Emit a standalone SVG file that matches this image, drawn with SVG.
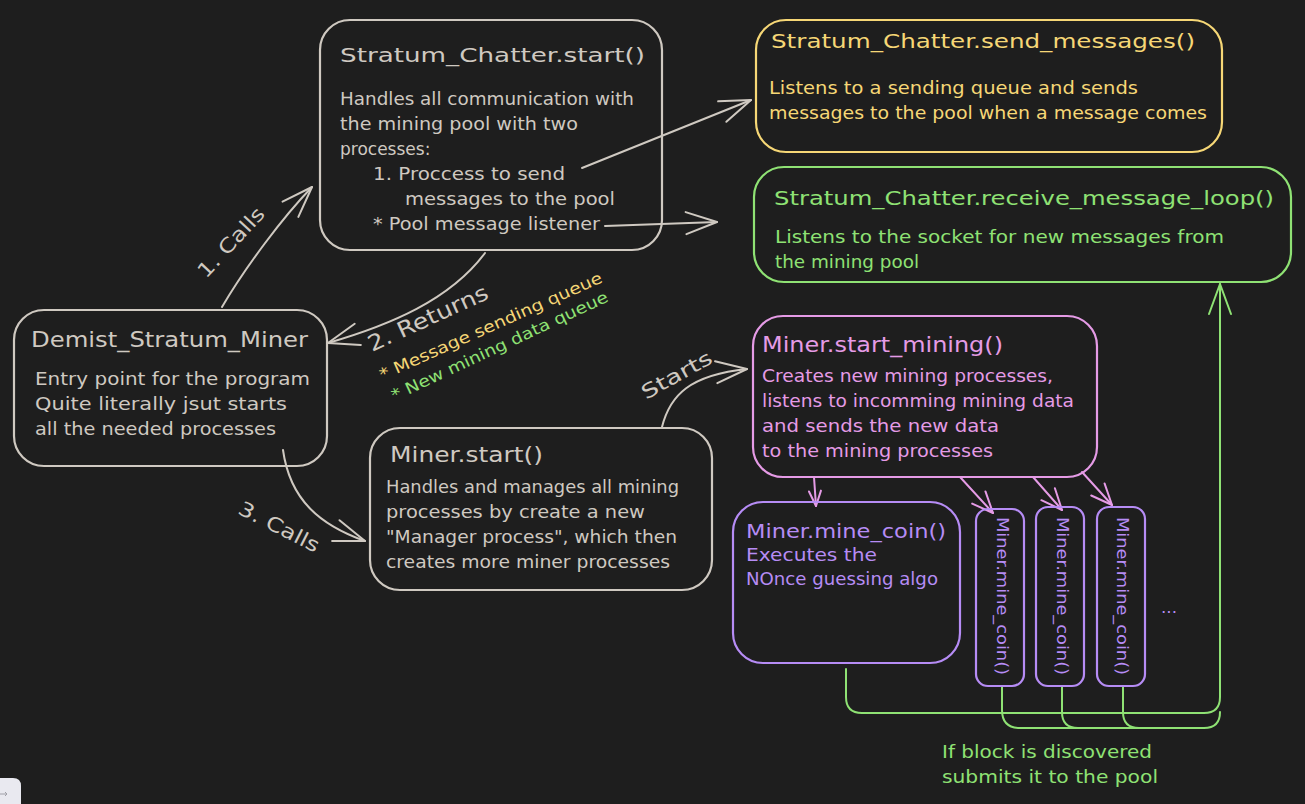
<svg xmlns="http://www.w3.org/2000/svg" width="1305" height="804" viewBox="0 0 1305 804">
<style>
text{font-family:"DejaVu Sans","Liberation Sans",sans-serif;}
.box{fill:none;stroke-width:2.2;}
.g{stroke:#cfc9c1;} .gt{fill:#cfc9c1;}
.y{stroke:#f6d776;} .yt{fill:#f6d776;}
.gr{stroke:#8fe274;} .grt{fill:#8fe274;}
.p{stroke:#e59be6;} .pt{fill:#e59be6;}
.v{stroke:#b68cf5;} .vt{fill:#b68cf5;}
.t{font-size:20px;}
.t2{font-size:22px;}
.b{font-size:17px;}
.l{font-size:16px;}
.c{fill:none;stroke-width:2;stroke-linecap:round;stroke-linejoin:round;}
</style>
<defs>
<marker id="ahg" viewBox="-33 -13 35 26" refX="0" refY="0" markerWidth="35" markerHeight="26" markerUnits="userSpaceOnUse" orient="auto" overflow="visible">
<path d="M-31,-11 L0,0 L-31,11" fill="none" stroke="#cfc9c1" stroke-width="2" stroke-linecap="round" stroke-linejoin="round"/>
</marker>
<marker id="ahp" viewBox="-24 -10 26 20" refX="0" refY="0" markerWidth="26" markerHeight="20" markerUnits="userSpaceOnUse" orient="auto" overflow="visible">
<path d="M-21,-9 L0,0 L-21,9" fill="none" stroke="#e59be6" stroke-width="2" stroke-linecap="round" stroke-linejoin="round"/>
</marker>
<marker id="ahps" viewBox="-17 -8 19 16" refX="0" refY="0" markerWidth="19" markerHeight="16" markerUnits="userSpaceOnUse" orient="auto" overflow="visible">
<path d="M-15,-6 L0,0 L-15,6" fill="none" stroke="#e59be6" stroke-width="2" stroke-linecap="round" stroke-linejoin="round"/>
</marker>
<marker id="ahgr" viewBox="-33 -13 35 26" refX="0" refY="0" markerWidth="35" markerHeight="26" markerUnits="userSpaceOnUse" orient="auto" overflow="visible">
<path d="M-30,-11 L0,0 L-30,11" fill="none" stroke="#8fe274" stroke-width="2" stroke-linecap="round" stroke-linejoin="round"/>
</marker>
</defs>
<rect x="0" y="0" width="1305" height="804" fill="#1e1e1e"/>

<g id="connectors">
<path class="c g" d="M222,307 C245,268 282,218 312,187" marker-end="url(#ahg)"/>
<path class="c g" d="M485,253 C450,300 390,325 328,343" marker-end="url(#ahg)"/>
<path class="c g" d="M283,450 C290,500 320,525 365,541" marker-end="url(#ahg)"/>
<path class="c g" d="M662,427 C670,395 690,375 747,369" marker-end="url(#ahg)"/>
<path class="c g" d="M582,168 L751,100" marker-end="url(#ahg)"/>
<path class="c g" d="M605,226 L717,222" marker-end="url(#ahg)"/>
<path class="c p" d="M814,477 L816,506" marker-end="url(#ahps)"/>
<path class="c p" d="M960,477 L993,513" marker-end="url(#ahp)"/>
<path class="c p" d="M1033,477 L1062,510" marker-end="url(#ahp)"/>
<path class="c p" d="M1082,472 L1112,505" marker-end="url(#ahp)"/>
<path class="c gr" stroke-width="1.6" d="M846,669 L846,697 Q846,713 862,713 L1204,713 Q1220,713 1220,697 L1220,284" marker-end="url(#ahgr)"/>
<path class="c gr" stroke-width="1.6" d="M1002,686 L1002,710 Q1002,728 1020,728 L1204,728 Q1220,728 1220,712"/>
<path class="c gr" stroke-width="1.6" d="M1062,686 L1062,712 Q1062,728 1078,728"/>
<path class="c gr" stroke-width="1.6" d="M1123,686 L1123,712 Q1123,728 1139,728"/>
<text class="t gt" transform="translate(236,247) rotate(-47)" text-anchor="middle" textLength="88" lengthAdjust="spacingAndGlyphs">1. Calls</text>
<text class="t2 gt" transform="translate(431,325) rotate(-24.6)" text-anchor="middle" textLength="130" lengthAdjust="spacingAndGlyphs">2. Returns</text>
<text class="l yt" transform="translate(493,331) rotate(-24)" text-anchor="middle" textLength="242" lengthAdjust="spacingAndGlyphs">* Message sending queue</text>
<text class="l grt" transform="translate(502,351) rotate(-25)" text-anchor="middle" textLength="237" lengthAdjust="spacingAndGlyphs">* New mining data queue</text>
<text class="t gt" transform="translate(276,533) rotate(27)" text-anchor="middle" textLength="88" lengthAdjust="spacingAndGlyphs">3. Calls</text>
<text class="t gt" transform="translate(680,381) rotate(-29)" text-anchor="middle" textLength="78" lengthAdjust="spacingAndGlyphs">Starts</text>
<text class="b grt" x="942" y="758" textLength="210" lengthAdjust="spacingAndGlyphs">If block is discovered</text>
<text class="b grt" x="942" y="783" textLength="216" lengthAdjust="spacingAndGlyphs">submits it to the pool</text>
</g>

<g id="stratum-start">
<rect class="box g" x="320" y="20" width="342" height="230" rx="30"/>
<text class="t gt" x="340" y="62" textLength="305" lengthAdjust="spacingAndGlyphs">Stratum_Chatter.start()</text>
<text class="b gt" x="340" y="105" textLength="294" lengthAdjust="spacingAndGlyphs">Handles all communication with</text>
<text class="b gt" x="340" y="130" textLength="238" lengthAdjust="spacingAndGlyphs">the mining pool with two</text>
<text class="b gt" x="340" y="155">processes:</text>
<text class="b gt" x="373" y="180" textLength="192" lengthAdjust="spacingAndGlyphs">1. Proccess to send</text>
<text class="b gt" x="405" y="205" textLength="210" lengthAdjust="spacingAndGlyphs">messages to the pool</text>
<text class="b gt" x="373" y="230" textLength="227" lengthAdjust="spacingAndGlyphs">* Pool message listener</text>
</g>

<g id="send-messages">
<rect class="box y" x="756" y="20" width="466" height="132" rx="30"/>
<text class="t yt" x="771" y="48" textLength="424" lengthAdjust="spacingAndGlyphs">Stratum_Chatter.send_messages()</text>
<text class="b yt" x="769" y="94" textLength="369" lengthAdjust="spacingAndGlyphs">Listens to a sending queue and sends</text>
<text class="b yt" x="769" y="119" textLength="438" lengthAdjust="spacingAndGlyphs">messages to the pool when a message comes</text>
</g>

<g id="receive-loop">
<rect class="box gr" x="754" y="167" width="537" height="115" rx="30"/>
<text class="t grt" x="774" y="205" textLength="500" lengthAdjust="spacingAndGlyphs">Stratum_Chatter.receive_message_loop()</text>
<text class="b grt" x="775" y="243" textLength="449" lengthAdjust="spacingAndGlyphs">Listens to the socket for new messages from</text>
<text class="b grt" x="775" y="268" textLength="144" lengthAdjust="spacingAndGlyphs">the mining pool</text>
</g>

<g id="demist-miner">
<rect class="box g" x="14" y="310" width="313" height="156" rx="30"/>
<text class="t2 gt" x="31" y="347" textLength="277" lengthAdjust="spacingAndGlyphs">Demist_Stratum_Miner</text>
<text class="b gt" x="35" y="385" textLength="275" lengthAdjust="spacingAndGlyphs">Entry point for the program</text>
<text class="b gt" x="35" y="410" textLength="252" lengthAdjust="spacingAndGlyphs">Quite literally jsut starts</text>
<text class="b gt" x="35" y="435" textLength="241" lengthAdjust="spacingAndGlyphs">all the needed processes</text>
</g>

<g id="miner-start">
<rect class="box g" x="370" y="428" width="342" height="162" rx="30"/>
<text class="t2 gt" x="390" y="462" textLength="153" lengthAdjust="spacingAndGlyphs">Miner.start()</text>
<text class="b gt" x="386" y="493" textLength="293" lengthAdjust="spacingAndGlyphs">Handles and manages all mining</text>
<text class="b gt" x="386" y="518" textLength="259" lengthAdjust="spacingAndGlyphs">processes by create a new</text>
<text class="b gt" x="386" y="543" textLength="291" lengthAdjust="spacingAndGlyphs">"Manager process", which then</text>
<text class="b gt" x="386" y="568" textLength="284" lengthAdjust="spacingAndGlyphs">creates more miner processes</text>
</g>

<g id="start-mining">
<rect class="box p" x="753" y="316" width="344" height="161" rx="30"/>
<text class="t2 pt" x="762" y="352" textLength="241" lengthAdjust="spacingAndGlyphs">Miner.start_mining()</text>
<text class="b pt" x="762" y="382" textLength="291" lengthAdjust="spacingAndGlyphs">Creates new mining processes,</text>
<text class="b pt" x="762" y="407" textLength="312" lengthAdjust="spacingAndGlyphs">listens to incomming mining data</text>
<text class="b pt" x="762" y="432" textLength="237" lengthAdjust="spacingAndGlyphs">and sends the new data</text>
<text class="b pt" x="762" y="457" textLength="231" lengthAdjust="spacingAndGlyphs">to the mining processes</text>
</g>

<g id="mine-coin-main">
<rect class="box v" x="733" y="502" width="227" height="161" rx="30"/>
<text class="t vt" x="746" y="538" textLength="200" lengthAdjust="spacingAndGlyphs">Miner.mine_coin()</text>
<text class="b vt" x="746" y="561" textLength="131" lengthAdjust="spacingAndGlyphs">Executes the</text>
<text class="b vt" x="746" y="585" textLength="192" lengthAdjust="spacingAndGlyphs">NOnce guessing algo</text>
</g>

<g id="mine-coin-1">
<rect class="box v" x="976" y="509" width="48" height="177" rx="12"/>
<text class="l vt" transform="translate(997,596) rotate(90)" text-anchor="middle" textLength="158" lengthAdjust="spacingAndGlyphs">Miner.mine_coin()</text>
</g>
<g id="mine-coin-2">
<rect class="box v" x="1036" y="507" width="48" height="179" rx="12"/>
<text class="l vt" transform="translate(1057,596) rotate(90)" text-anchor="middle" textLength="158" lengthAdjust="spacingAndGlyphs">Miner.mine_coin()</text>
</g>
<g id="mine-coin-3">
<rect class="box v" x="1097" y="507" width="48" height="179" rx="12"/>
<text class="l vt" transform="translate(1117,596) rotate(90)" text-anchor="middle" textLength="158" lengthAdjust="spacingAndGlyphs">Miner.mine_coin()</text>
</g>
<g id="ellipsis">
<text class="l vt" x="1161" y="613" textLength="16" lengthAdjust="spacingAndGlyphs">...</text>
</g>

<g id="ui-corner">
<path d="M0,778 L13,778 Q21,778 21,786 L21,804 L0,804 Z" fill="#e9e9f0"/>
<path d="M0,794 L7,794 M5,792 L7,794 L5,796" fill="none" stroke="#a0a0a8" stroke-width="1"/>
</g>
</svg>
